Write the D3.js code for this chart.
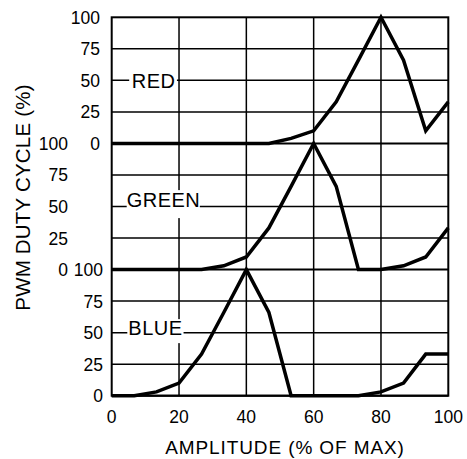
<!DOCTYPE html>
<html>
<head>
<meta charset="utf-8">
<script src="https://cdn.jsdelivr.net/npm/d3@7"></script>
<style>
  body { margin: 0; background: #fff; }
  text { font-family: "Liberation Sans", Arial, sans-serif; fill: #000; }
</style>
</head>
<body>
<div id="chart"></div>
<script>
// amplitude (% of max) sample points
var amplitude = [0, 6.7, 13.3, 20, 26.7, 33.3, 40, 46.7, 53.3, 60, 66.7, 73.3, 80, 86.7, 93.3, 100];
// duty cycle per channel (%)
var red   = [0, 0, 0, 0, 0, 0, 0, 0, 4, 10, 33, 66, 100, 66, 10, 33];
var green = [0, 0, 0, 0, 0, 3, 10, 33, 66, 100, 66, 0, 0, 3, 10, 33];
var blue  = [0, 0, 3, 10, 33, 66, 100, 66, 0, 0, 0, 0, 3, 10, 33, 33];
var channels = ['RED', 'GREEN', 'BLUE'];
var xTicks = [0, 20, 40, 60, 80, 100];
var yTicks = [0, 25, 50, 75, 100];

var W = 467, H = 459,
	plotLeft = 111.7, plotRight = 448.3,
	plotTop = 17.3, plotBottom = 395.7,
	panelH = (plotBottom - plotTop) / 3;

var series = [red, green, blue];
// where each panel's tick labels end (right aligned)
var labelRight = [100, 68, 103];
// label placement: start x, baseline offset from the 50 line, white box
var labelPos = [
	{ x: 131.7, dy: 8,   padL: 2.5, padR: 2, top: 16, bottom: 1 },
	{ x: 126.7, dy: 0.6, padL: 0,   padR: 0, top: 17, bottom: 11 },
	{ x: 128.3, dy: 2.5, padL: 1,   padR: 1.5, top: 16, bottom: 8 }
];

var svg = d3.select('#chart').append('svg')
	.attr('width', W)
	.attr('height', H);

var x = d3.scaleLinear().domain([0, 100]).range([plotLeft, plotRight]);

// vertical grid
svg.selectAll('.vgrid')
	.data(xTicks.slice(1, -1))
	.enter().append('line')
	.attr('x1', function(d) { return x(d); })
	.attr('x2', function(d) { return x(d); })
	.attr('y1', plotTop)
	.attr('y2', plotBottom)
	.attr('stroke', '#000')
	.attr('stroke-width', 1.5);

var line = d3.line()
	.x(function(d, i) { return x(amplitude[i]); });

series.forEach(function(values, p) {
	var top = plotTop + p * panelH;
	var y = d3.scaleLinear().domain([0, 100]).range([top + panelH, top]);

	// horizontal grid
	svg.selectAll('.hgrid' + p)
		.data(yTicks.slice(1, -1))
		.enter().append('line')
		.attr('x1', plotLeft)
		.attr('x2', plotRight)
		.attr('y1', function(d) { return y(d); })
		.attr('y2', function(d) { return y(d); })
		.attr('stroke', '#000')
		.attr('stroke-width', 1.5);

	// panel separator
	svg.append('line')
		.attr('x1', plotLeft).attr('x2', plotRight)
		.attr('y1', y(0)).attr('y2', y(0))
		.attr('stroke', '#000')
		.attr('stroke-width', 2);

	// tick labels
	svg.selectAll('.ylab' + p)
		.data(yTicks)
		.enter().append('text')
		.attr('x', labelRight[p])
		.attr('y', function(d) { return y(d) + 6.5; })
		.attr('text-anchor', 'end')
		.style('font-size', '17.5px')
		.text(function(d) { return d; });

	// channel label with white backing
	var lp = labelPos[p];
	var g = svg.append('g');
	var bg = g.append('rect').attr('fill', '#fff');
	var t = g.append('text')
		.attr('x', lp.x)
		.attr('y', y(50) + lp.dy)
		.style('font-size', '20px')
		.style('letter-spacing', '0.5px')
		.text(channels[p]);
	var bb = t.node().getBBox();
	var base = y(50) + lp.dy;
	bg.attr('x', bb.x - lp.padL)
		.attr('width', bb.width - 0.5 + lp.padL + lp.padR)
		.attr('y', base - lp.top)
		.attr('height', lp.top + lp.bottom);

	// data line
	svg.append('path')
		.datum(values)
		.attr('d', line.y(function(d) { return y(d); }))
		.attr('fill', 'none')
		.attr('stroke', '#000')
		.attr('stroke-width', 3.5)
		.attr('stroke-linejoin', 'miter');
});

// outer frame
svg.append('rect')
	.attr('x', plotLeft)
	.attr('y', plotTop)
	.attr('width', plotRight - plotLeft)
	.attr('height', plotBottom - plotTop)
	.attr('fill', 'none')
	.attr('stroke', '#000')
	.attr('stroke-width', 2);

// x tick labels
svg.selectAll('.xlab')
	.data(xTicks)
	.enter().append('text')
	.attr('x', function(d) { return x(d); })
	.attr('y', 423)
	.attr('text-anchor', 'middle')
	.style('font-size', '17.5px')
	.text(function(d) { return d; });

// axis titles
svg.append('text')
	.attr('x', 285)
	.attr('y', 453.5)
	.attr('text-anchor', 'middle')
	.style('font-size', '19px')
	.style('letter-spacing', '0.9px')
	.text('AMPLITUDE (% OF MAX)');

svg.append('text')
	.attr('transform', 'translate(30,197.5) rotate(-90)')
	.attr('text-anchor', 'middle')
	.style('font-size', '20.5px')
	.style('letter-spacing', '0.2px')
	.text('PWM DUTY CYCLE (%)');
</script>
</body>
</html>
